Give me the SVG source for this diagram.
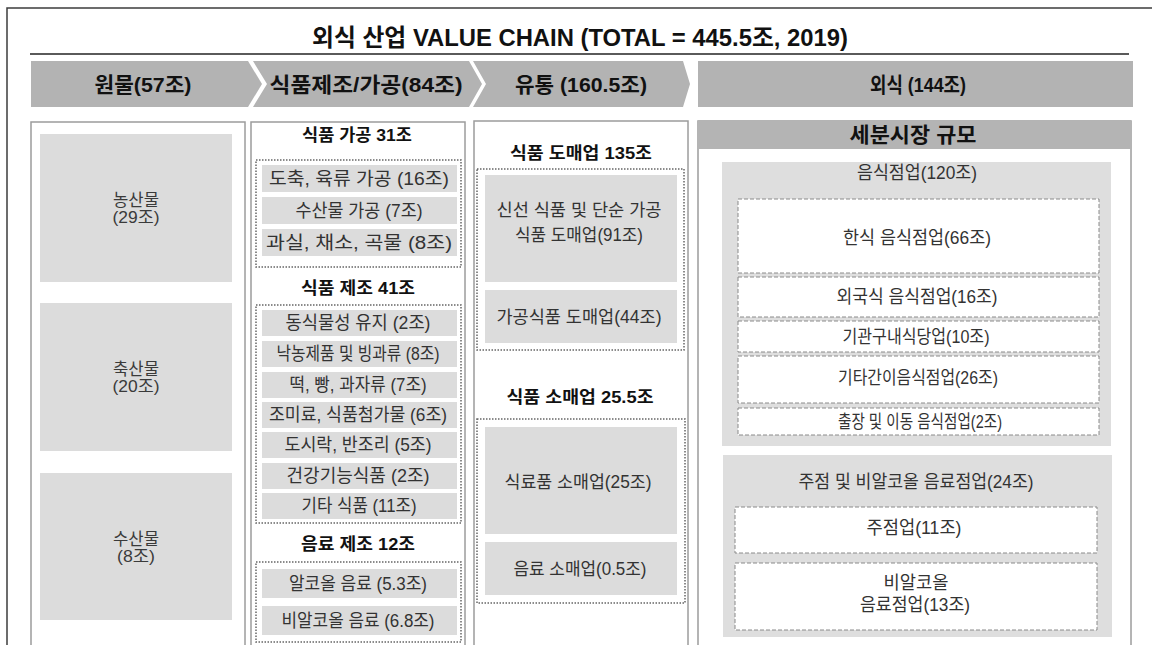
<svg xmlns="http://www.w3.org/2000/svg" width="1152" height="645" viewBox="0 0 1152 645">
<style>
text{font-family:"Liberation Sans","Noto Sans CJK KR",sans-serif;dominant-baseline:central;text-anchor:middle}
.frame{fill:none;stroke:#3c3c3c;stroke-width:1.5}
.uline{stroke:#5a5a5a;stroke-width:2}
.band{fill:#b3b3b3}
.col{fill:#fff;stroke:#9c9c9c;stroke-width:1.5}
.cell{fill:#dcdcdc}
.panel{fill:#dedede}
.dot{fill:none;stroke:#666;stroke-width:1.5;stroke-dasharray:1.5 1.5}
.dash{fill:#fff;stroke:#8a8a8a;stroke-width:1;stroke-dasharray:4 2}
.title{font-size:24px;font-weight:bold;fill:#111}
.hd{font-size:21px;font-weight:bold;fill:#111}
.sub{font-size:17px;font-weight:bold;fill:#111}
.t1{font-size:16.5px;fill:#3a3a3a}
.t2{font-size:18px;fill:#333}
.t3{font-size:17.5px;fill:#333}
.t4{font-size:18px;fill:#333}
</style>
<rect width="1152" height="645" fill="#fff"/>
<path class="frame" d="M7 660 V8 H1160"/>
<g id="title">
<text class="title" x="580" y="37" textLength="536" lengthAdjust="spacingAndGlyphs">외식 산업 VALUE CHAIN (TOTAL = 445.5조, 2019)</text>
<line class="uline" x1="30" y1="54" x2="1129" y2="54"/>
</g>
<g id="stage-raw">
<polygon class="band" points="31,61 248,61 262,84 248,107 31,107"/>
<text class="hd" x="143" y="84" textLength="97" lengthAdjust="spacingAndGlyphs">원물(57조)</text>
</g>
<g id="stage-manufacture">
<polygon class="band" points="253,61 469,61 482,84 469,107 253,107 267,84"/>
<text class="hd" x="366" y="84" textLength="193" lengthAdjust="spacingAndGlyphs">식품제조/가공(84조)</text>
</g>
<g id="stage-distribution">
<polygon class="band" points="473,61 683,61 690,84 683,107 473,107 486,84"/>
<text class="hd" x="581" y="84" textLength="132" lengthAdjust="spacingAndGlyphs">유통 (160.5조)</text>
</g>
<g id="stage-foodservice">
<rect class="band" x="698" y="61" width="435" height="46"/>
<text class="hd" x="918" y="84" textLength="96" lengthAdjust="spacingAndGlyphs">외식 (144조)</text>
</g>

<g id="col-raw">
<rect class="col" x="31" y="122" width="214" height="540"/>
<g id="raw-agri"><rect class="cell" x="40" y="134" width="192" height="148"/>
<text class="t1" x="136" y="200" textLength="46" lengthAdjust="spacingAndGlyphs">농산물</text><text class="t1" x="136" y="217" textLength="47" lengthAdjust="spacingAndGlyphs">(29조)</text></g>
<g id="raw-livestock"><rect class="cell" x="40" y="303" width="192" height="148"/>
<text class="t1" x="136" y="369" textLength="46" lengthAdjust="spacingAndGlyphs">축산물</text><text class="t1" x="136" y="386" textLength="47" lengthAdjust="spacingAndGlyphs">(20조)</text></g>
<g id="raw-fishery"><rect class="cell" x="40" y="473" width="192" height="147"/>
<text class="t1" x="136" y="539" textLength="46" lengthAdjust="spacingAndGlyphs">수산물</text><text class="t1" x="136" y="556" textLength="38" lengthAdjust="spacingAndGlyphs">(8조)</text></g>
</g>

<g id="col-manufacture">
<rect class="col" x="251" y="122" width="214" height="540"/>
<g id="grp-processing">
<text class="sub" x="357" y="135" textLength="110" lengthAdjust="spacingAndGlyphs">식품 가공 31조</text>
<rect class="dot" x="256" y="160" width="205" height="107"/>
<rect class="cell" x="262" y="165" width="195" height="27"/><text class="t2" x="359" y="178.5" textLength="180" lengthAdjust="spacingAndGlyphs">도축, 육류 가공 (16조)</text>
<rect class="cell" x="262" y="197" width="195" height="27"/><text class="t2" x="359" y="210.5" textLength="127" lengthAdjust="spacingAndGlyphs">수산물 가공 (7조)</text>
<rect class="cell" x="262" y="229" width="195" height="27"/><text class="t2" x="359" y="242.5" textLength="186" lengthAdjust="spacingAndGlyphs">과실, 채소, 곡물 (8조)</text>
</g>
<g id="grp-making">
<text class="sub" x="358" y="288" textLength="114" lengthAdjust="spacingAndGlyphs">식품 제조 41조</text>
<rect class="dot" x="256" y="305" width="205" height="218"/>
<rect class="cell" x="262" y="310" width="195" height="26"/><text class="t2" x="358" y="323" textLength="145" lengthAdjust="spacingAndGlyphs">동식물성 유지 (2조)</text>
<rect class="cell" x="262" y="341" width="195" height="26"/><text class="t2" x="358" y="354" textLength="163" lengthAdjust="spacingAndGlyphs">낙농제품 및 빙과류 (8조)</text>
<rect class="cell" x="262" y="372" width="195" height="26"/><text class="t2" x="358" y="385" textLength="137" lengthAdjust="spacingAndGlyphs">떡, 빵, 과자류 (7조)</text>
<rect class="cell" x="262" y="402" width="195" height="26"/><text class="t2" x="358" y="415" textLength="178" lengthAdjust="spacingAndGlyphs">조미료, 식품첨가물 (6조)</text>
<rect class="cell" x="262" y="432" width="195" height="26"/><text class="t2" x="358" y="445" textLength="147" lengthAdjust="spacingAndGlyphs">도시락, 반조리 (5조)</text>
<rect class="cell" x="262" y="463" width="195" height="26"/><text class="t2" x="358" y="476" textLength="143" lengthAdjust="spacingAndGlyphs">건강기능식품 (2조)</text>
<rect class="cell" x="262" y="493" width="195" height="26"/><text class="t2" x="359" y="506" textLength="115" lengthAdjust="spacingAndGlyphs">기타 식품 (11조)</text>
</g>
<g id="grp-beverage">
<text class="sub" x="358" y="544" textLength="114" lengthAdjust="spacingAndGlyphs">음료 제조 12조</text>
<rect class="dot" x="256" y="562" width="205" height="80"/>
<rect class="cell" x="262" y="569" width="195" height="29"/><text class="t2" x="358" y="583.5" textLength="138" lengthAdjust="spacingAndGlyphs">알코올 음료 (5.3조)</text>
<rect class="cell" x="262" y="606" width="195" height="29"/><text class="t2" x="358" y="620.5" textLength="153" lengthAdjust="spacingAndGlyphs">비알코올 음료 (6.8조)</text>
</g>
</g>

<g id="col-distribution">
<rect class="col" x="474" y="121" width="214" height="541"/>
<g id="grp-wholesale">
<text class="sub" x="581" y="153" textLength="142" lengthAdjust="spacingAndGlyphs">식품 도매업 135조</text>
<rect class="dot" x="477" y="169" width="207" height="181"/>
<rect class="cell" x="485" y="175" width="192" height="107"/>
<text class="t3" x="579" y="210" textLength="165" lengthAdjust="spacingAndGlyphs">신선 식품 및 단순 가공</text>
<text class="t3" x="579" y="235" textLength="128" lengthAdjust="spacingAndGlyphs">식품 도매업(91조)</text>
<rect class="cell" x="485" y="290" width="192" height="53"/>
<text class="t3" x="579" y="317" textLength="165" lengthAdjust="spacingAndGlyphs">가공식품 도매업(44조)</text>
</g>
<g id="grp-retail">
<text class="sub" x="580" y="397" textLength="147" lengthAdjust="spacingAndGlyphs">식품 소매업 25.5조</text>
<rect class="dot" x="477" y="419" width="208" height="184"/>
<rect class="cell" x="485" y="427" width="192" height="107"/>
<text class="t3" x="578" y="482" textLength="147" lengthAdjust="spacingAndGlyphs">식료품 소매업(25조)</text>
<rect class="cell" x="485" y="542" width="192" height="53"/>
<text class="t3" x="580" y="569" textLength="133" lengthAdjust="spacingAndGlyphs">음료 소매업(0.5조)</text>
</g>
</g>

<g id="col-foodservice">
<rect class="col" x="698" y="121" width="433" height="541"/>
<rect x="698" y="121" width="433" height="28" fill="#b4b4b4"/>
<text class="hd" x="913" y="134" textLength="127" lengthAdjust="spacingAndGlyphs">세분시장 규모</text>
<g id="grp-restaurant">
<rect class="panel" x="722" y="162" width="389" height="284"/>
<text class="t4" x="917" y="173" textLength="120" lengthAdjust="spacingAndGlyphs">음식점업(120조)</text>
<rect class="dash" x="738" y="199" width="361" height="74"/><text class="t4" x="917" y="238" textLength="148" lengthAdjust="spacingAndGlyphs">한식 음식점업(66조)</text>
<rect class="dash" x="738" y="277" width="361" height="40"/><text class="t4" x="917" y="297" textLength="161" lengthAdjust="spacingAndGlyphs">외국식 음식점업(16조)</text>
<rect class="dash" x="738" y="321" width="361" height="31"/><text class="t4" x="916" y="337" textLength="147" lengthAdjust="spacingAndGlyphs">기관구내식당업(10조)</text>
<rect class="dash" x="738" y="356" width="361" height="47"/><text class="t4" x="918" y="378" textLength="160" lengthAdjust="spacingAndGlyphs">기타간이음식점업(26조)</text>
<rect class="dash" x="738" y="408" width="361" height="27"/><text class="t4" x="920" y="422" textLength="164" lengthAdjust="spacingAndGlyphs">출장 및 이동 음식점업(2조)</text>
</g>
<g id="grp-bar">
<rect class="panel" x="723" y="455" width="389" height="182"/>
<text class="t4" x="916" y="482" textLength="235" lengthAdjust="spacingAndGlyphs">주점 및 비알코올 음료점업(24조)</text>
<rect class="dash" x="735" y="507" width="362" height="46"/><text class="t4" x="914" y="528" textLength="95" lengthAdjust="spacingAndGlyphs">주점업(11조)</text>
<rect class="dash" x="735" y="563" width="362" height="67"/>
<text class="t4" x="916" y="583" textLength="65" lengthAdjust="spacingAndGlyphs">비알코올</text>
<text class="t4" x="915" y="605" textLength="110" lengthAdjust="spacingAndGlyphs">음료점업(13조)</text>
</g>
</g>
<g id="connectors"/>
</svg>
